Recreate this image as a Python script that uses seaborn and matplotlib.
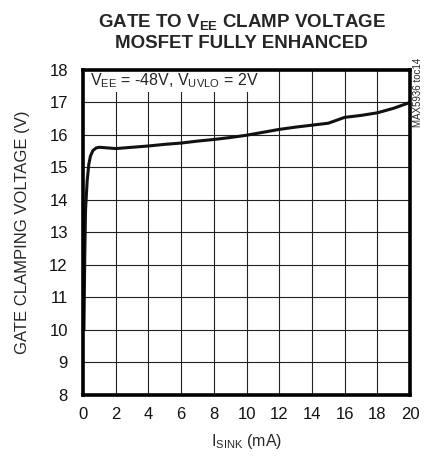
import matplotlib
matplotlib.use("Agg")
import matplotlib.pyplot as plt
import seaborn as sns
import pandas as pd

# I_SINK (mA) vs gate clamping voltage (V)
i_sink_ma = [0.05, 0.10, 0.15, 0.25, 0.35, 0.45, 0.6, 0.8, 1.0, 1.5, 2.0,
             3.0, 4.0, 5.0, 6.0, 7.0, 8.0, 9.0, 10.0, 11.0, 12.0, 13.0,
             14.0, 15.0, 15.5, 16.0, 17.0, 18.0, 19.0, 20.0]
v_clamp = [10.0, 12.2, 13.7, 14.6, 15.1, 15.35, 15.52, 15.6, 15.62, 15.6, 15.58,
           15.62, 15.66, 15.71, 15.75, 15.81, 15.86, 15.92, 15.99, 16.08, 16.17, 16.24,
           16.3, 16.36, 16.45, 16.54, 16.6, 16.68, 16.82, 17.0]

x_ticks = list(range(0, 21, 2))
y_ticks = list(range(8, 19))

sns.set_style("white")
plt.rcParams["font.family"] = ["Liberation Sans", "DejaVu Sans"]
plt.rcParams["mathtext.fontset"] = "custom"
plt.rcParams["mathtext.rm"] = "Liberation Sans"
plt.rcParams["mathtext.bf"] = "Liberation Sans:bold"
plt.rcParams["mathtext.default"] = "rm"

df = pd.DataFrame({"i_sink": i_sink_ma, "v": v_clamp})

fig = plt.figure(figsize=(4.24, 4.63), dpi=100)
ax = fig.add_axes([0.196, 0.147, 0.771, 0.702])

sns.lineplot(data=df, x="i_sink", y="v", ax=ax, color="#111111",
             linewidth=2.2, estimator=None, sort=False)

ax.set_xlim(0, 20)
ax.set_ylim(8, 18)
ax.set_xticks(x_ticks)
ax.set_yticks(y_ticks)
ax.grid(True, color="#222222", linewidth=0.8)
ax.set_axisbelow(True)
for sp in ax.spines.values():
    sp.set_visible(True)
    sp.set_color("black")
    sp.set_linewidth(2.6)
    sp.set_zorder(5)
ax.tick_params(length=0, labelsize=12, colors="#111111")
ax.tick_params(axis="y", pad=11)
ax.tick_params(axis="x", pad=9)

ax.set_xlabel("I$_{SINK}$ (mA)", fontsize=11.5, labelpad=7)
ax.set_ylabel("GATE CLAMPING VOLTAGE (V)", fontsize=12, labelpad=14)

ax.text(0.45, 17.68, "V$_{EE}$ = -48V, V$_{UVLO}$ = 2V", fontsize=11.5,
        va="center", ha="left", zorder=4,
        bbox=dict(facecolor="white", edgecolor="none", pad=1.5))

fig.text(0.985, 0.80, "MAX5936 toc14", rotation=90, fontsize=7,
         ha="center", va="center")

fig.text(0.57, 0.953, r"GATE TO V$\mathbf{_{EE}}$ CLAMP VOLTAGE", fontsize=13.5,
         fontweight="bold", ha="center", va="center")
fig.text(0.57, 0.905, "MOSFET FULLY ENHANCED", fontsize=13.5,
         fontweight="bold", ha="center", va="center")

fig.savefig("out.png", dpi=100)
